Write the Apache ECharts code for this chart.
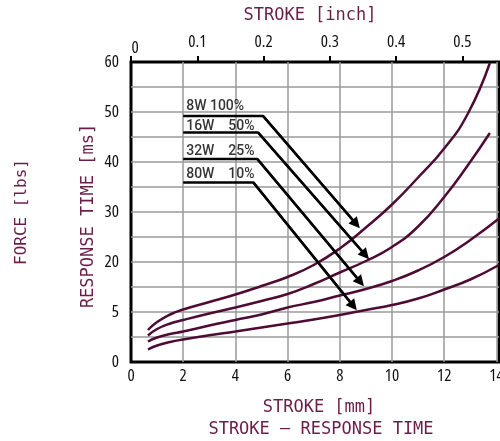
<!DOCTYPE html>
<html>
<head>
<meta charset="utf-8">
<script src="https://cdn.jsdelivr.net/npm/echarts@6/dist/echarts.min.js"></script>
<style>
  html, body { margin: 0; padding: 0; background: #fff; }
  #chart { width: 500px; height: 441px; }
</style>
</head>
<body>
<div id="chart"></div>
<script>
// Stroke [mm] vs response time for four drive levels
const curve100 = [[0.65,6.4],[1.0,8.0],[1.5,9.5],[2,10.5],[3,12.0],[4,13.5],[5,15.2],[6,17.0],[7,19.4],[8,22.7],[9,26.9],[10,31.5],[11,36.9],[12,42.7],[12.9,49.6],[13.75,59.8]];
const curve50  = [[0.65,5.3],[1.0,6.6],[1.5,7.7],[2,8.4],[3,9.7],[4,10.9],[5,12.2],[6,13.6],[7,15.6],[8,17.9],[9,20.2],[10,23.0],[11,27.1],[12,33.0],[12.9,39.3],[13.75,45.8]];
const curve25  = [[0.65,4.1],[1.0,4.9],[1.5,5.6],[2,6.1],[3,7.3],[4,8.4],[5,9.5],[6,10.9],[7,12.0],[8,13.3],[9,14.6],[10,16.2],[11,18.3],[12,21.0],[13,24.4],[14.1,28.7]];
const curve10  = [[0.65,2.5],[1.0,3.3],[1.5,4.0],[2,4.5],[3,5.35],[4,6.1],[5,6.9],[6,7.7],[7,8.5],[8,9.4],[9,10.4],[10,11.4],[11,12.7],[12,14.5],[13,16.5],[14.1,19.4]];

// Left axis tick text (value -> printed label)
const yTickValues = [0, 10, 20, 30, 40, 50, 60];
const yTickLabels = ['0', '5', '20', '30', '40', '50', '60'];

// Inch scale ticks along the top edge
const inchTicks = [0, 0.1, 0.2, 0.3, 0.4, 0.5];

// Callout labels with their leader lines (underline, bend, arrow head)
const calloutText  = ['8W 100%', '16W    50%', '32W    25%', '80W    10%'];
const calloutTextY = [52.4, 48.3, 43.4, 38.8];
const calloutStart = 2.0;
const calloutLevel = [49.2, 45.9, 40.6, 35.9];
const calloutBend  = [5.06, 4.87, 4.84, 4.69];
const calloutTipX  = [8.63, 8.98, 8.79, 8.52];
const calloutTipY  = [27.6, 21.4, 16.0, 11.2];

const MM_PER_INCH = 25.4;
const X_MAX = 14.1;

const maroonText = '#6b1d4a';
const curveColor = '#4e0b34';
const sans = '"Open Sans", "Noto Sans", sans-serif';
const mono = '"DejaVu Sans Mono", "Liberation Mono", monospace';
const titleFont = { color: maroonText, fontSize: 17, fontWeight: 'normal', fontFamily: mono };
const tickFont = { color: '#111', fontSize: 17, fontWeight: 'normal condensed', fontFamily: sans };
const gridLine = { show: true, showMinLine: false, showMaxLine: false, lineStyle: { color: '#9a9a9a', width: 1.5 } };

const curves = [curve100, curve50, curve25, curve10].map(d => ({
  type: 'line',
  data: d,
  smooth: 0.5,
  symbol: 'none',
  clip: true,
  lineStyle: { color: curveColor, width: 2.5 },
  z: 3
}));

const leaders = calloutText.map((t, i) => ({
  type: 'line',
  data: [[calloutStart, calloutLevel[i]], [calloutBend[i], calloutLevel[i]], [calloutTipX[i], calloutTipY[i]]],
  symbol: 'none',
  lineStyle: { color: '#000', width: 2.5 },
  z: 4,
  markLine: {
    silent: true,
    symbol: ['none', 'triangle'],
    symbolSize: 11,
    label: { show: false },
    lineStyle: { color: '#000', width: 2.5, type: 'solid' },
    data: [[{ coord: [calloutBend[i], calloutLevel[i]] }, { coord: [calloutTipX[i], calloutTipY[i]] }]]
  }
}));

const labels = {
  type: 'scatter',
  data: calloutText.map((t, i) => ({ value: [calloutStart, calloutTextY[i]], name: t })),
  symbolSize: 0,
  z: 5,
  label: {
    show: true,
    formatter: p => p.name,
    position: [3, -1],
    color: '#000',
    fontSize: 14,
    fontWeight: 500,
    fontFamily: 'Roboto, "Liberation Sans", sans-serif'
  }
};

const chart = echarts.init(document.getElementById('chart'), null, { renderer: 'canvas' });
chart.setOption({
  animation: false,
  backgroundColor: '#fff',
  title: {
    text: 'STROKE — RESPONSE TIME',
    left: 316,
    top: 416,
    textAlign: 'center',
    textStyle: titleFont
  },
  grid: {
    left: 131, right: 1, top: 62, bottom: 79,
    outerBoundsMode: 'none',
    show: true, borderColor: '#000', borderWidth: 3, backgroundColor: 'transparent'
  },
  xAxis: [
    {
      type: 'value', position: 'bottom', min: 0, max: X_MAX, interval: 2,
      name: 'STROKE [mm]', nameLocation: 'middle', nameGap: 37, nameMoveOverlap: false,
      nameTextStyle: Object.assign({ padding: [0, 0, 0, 8] }, titleFont),
      axisLine: { show: false, onZero: false }, axisTick: { show: false },
      splitLine: gridLine,
      axisLabel: Object.assign({ margin: 6, hideOverlap: false }, tickFont)
    },
    {
      type: 'value', position: 'top', min: 0, max: X_MAX / MM_PER_INCH,
      name: 'STROKE [inch]', nameLocation: 'middle', nameGap: 38, nameMoveOverlap: false,
      nameTextStyle: Object.assign({ padding: [0, 10, 0, 0] }, titleFont),
      axisLine: { show: false, onZero: false },
      axisTick: { show: true, length: 6, customValues: inchTicks, lineStyle: { color: '#000', width: 2 } },
      splitLine: { show: false },
      axisLabel: Object.assign({
        margin: 11,
        customValues: inchTicks,
        formatter: v => (v === 0 ? '{z|0}' : v.toFixed(1)),
        rich: { z: { fontSize: 17, fontWeight: 'normal condensed', fontFamily: sans, color: '#111', padding: [0, 0, -6, 8] } }
      }, tickFont)
    }
  ],
  yAxis: [
    {
      type: 'value', min: 0, max: 60, interval: 5,
      name: 'RESPONSE TIME [ms]', nameLocation: 'middle', nameGap: 34, nameMoveOverlap: false,
      nameTextStyle: Object.assign({ padding: [0, 8, 0, 0] }, titleFont),
      axisLine: { show: false, onZero: false }, axisTick: { show: false },
      splitLine: gridLine,
      axisLabel: Object.assign({
        margin: 12,
        formatter: v => {
          const k = yTickValues.indexOf(v);
          return k >= 0 ? yTickLabels[k] : '';
        }
      }, tickFont)
    },
    {
      type: 'value', min: 0, max: 60, position: 'left',
      name: 'FORCE [lbs]', nameLocation: 'middle', nameGap: 101, nameMoveOverlap: false,
      nameTextStyle: Object.assign({}, titleFont, { fontSize: 16 }),
      axisLine: { show: false, onZero: false }, axisTick: { show: false },
      axisLabel: { show: false }, splitLine: { show: false }
    }
  ],
  series: [...curves, ...leaders, labels]
});
</script>
</body>
</html>
